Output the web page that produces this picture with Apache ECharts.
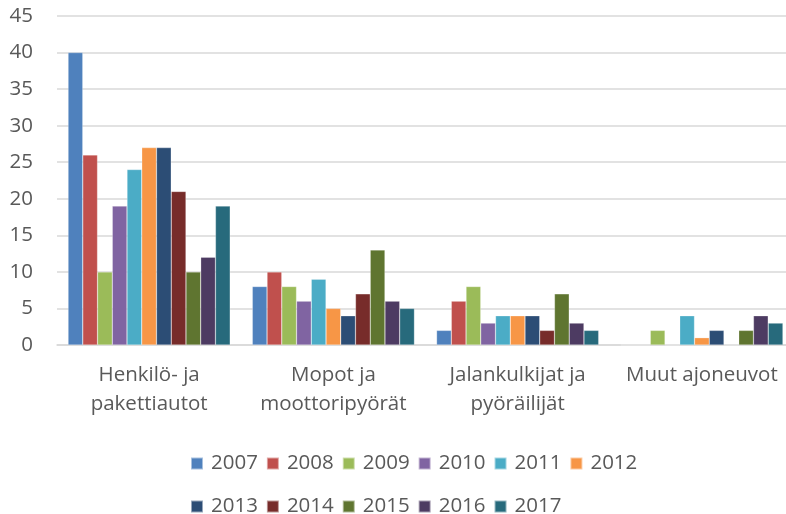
<!DOCTYPE html>
<html>
<head>
<meta charset="utf-8">
<script src="https://cdn.jsdelivr.net/npm/echarts@6/dist/echarts.min.js"></script>
<style>
  html, body { margin: 0; padding: 0; background: #fff; }
  #chart { width: 786px; height: 514px; }
</style>
</head>
<body>
<div id="chart"></div>
<script>
// categories (x axis)
var categories = ['Henkilö- ja\npakettiautot', 'Mopot ja\nmoottoripyörät', 'Jalankulkijat ja\npyöräilijät', 'Muut ajoneuvot'];
// series names
var years = ['2007', '2008', '2009', '2010', '2011', '2012', '2013', '2014', '2015', '2016', '2017'];
// values per year, one per category
var v2007 = [40, 8, 2, 0];
var v2008 = [26, 10, 6, 0];
var v2009 = [10, 8, 8, 2];
var v2010 = [19, 6, 3, 0];
var v2011 = [24, 9, 4, 4];
var v2012 = [27, 5, 4, 1];
var v2013 = [27, 4, 4, 2];
var v2014 = [21, 7, 2, 0];
var v2015 = [10, 13, 7, 2];
var v2016 = [12, 6, 3, 4];
var v2017 = [19, 5, 2, 3];
var values = [v2007, v2008, v2009, v2010, v2011, v2012, v2013, v2014, v2015, v2016, v2017];
var colors = ['#4F81BD', '#C0504D', '#9BBB59', '#8064A2', '#4BACC6', '#F79646',
              '#2C4D75', '#772C2A', '#5F7530', '#4D3B62', '#276A7C'];
// y axis ticks
var yMin = 0, yMax = 45, yStep = 5;

var font = 'Open Sans';
var chart = echarts.init(document.getElementById('chart'));

var series = [];
for (var i = 0; i < years.length; i++) {
    series.push({
        name: years[i],
        type: 'bar',
        data: values[i],
        barGap: '0%',
        barCategoryGap: '12%',
        itemStyle: { color: colors[i], borderColor: 'rgba(255,255,255,0.5)', borderWidth: 0.5 }
    });
}

var option = {
    animation: false,
    color: colors,
    // plot area runs a little past the right edge, like the original
    grid: { left: 57, width: 737, top: 16, bottom: 169, containLabel: false, outerBoundsMode: 'none' },
    legend: {
        data: years,
        left: 190,
        top: 446,
        width: 460,
        padding: 0,
        itemWidth: 12,
        itemHeight: 12,
        itemGap: 8,
        icon: 'rect',
        textStyle: { fontFamily: font, fontSize: 20.5, color: '#595959', lineHeight: 35, padding: [0, 0, 0, 3] }
    },
    xAxis: {
        type: 'category',
        data: categories,
        axisLine: { lineStyle: { color: '#D9D9D9', width: 1.5 } },
        axisTick: { show: false },
        axisLabel: { fontFamily: font, fontSize: 20.5, color: '#595959', margin: 16, lineHeight: 29, interval: 0 }
    },
    yAxis: {
        type: 'value',
        min: yMin,
        max: yMax,
        interval: yStep,
        axisLine: { show: false },
        axisTick: { show: false },
        splitLine: { lineStyle: { color: '#D9D9D9', width: 1.5 } },
        axisLabel: { fontFamily: font, fontSize: 20.5, color: '#595959', margin: 24 }
    },
    series: series
};

chart.setOption(option);
</script>
</body>
</html>
